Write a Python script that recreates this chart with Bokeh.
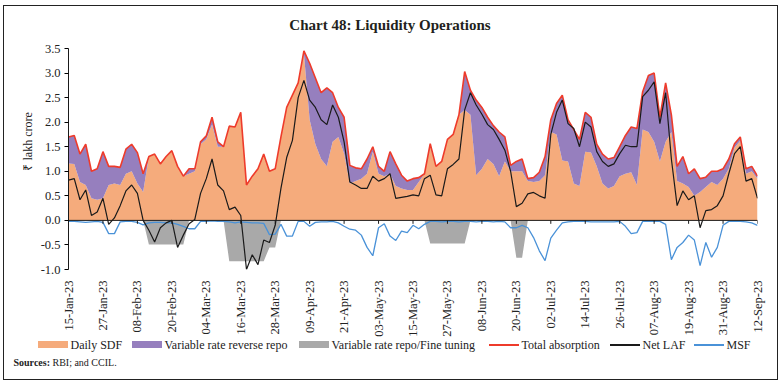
import math
import pandas as pd
from bokeh.plotting import figure
from bokeh.layouts import column
from bokeh.models import (ColumnDataSource, FixedTicker, NumeralTickFormatter, Label,
                          Span, Range1d, Title, Div)
from bokeh.embed import file_html
from bokeh.resources import INLINE

# ---------------- data (lakh crore), sampled every 2 days from 15-Jan-23 ----------------
start_date = "2023-01-15"
step = "2D"

total_absorption = [
    1.70, 1.73, 1.35, 1.55, 1.00, 1.05, 1.40, 1.10, 1.10, 1.08,
    1.45, 1.55, 1.38, 0.95, 1.30, 1.35, 1.15, 1.30, 1.42, 1.10,
    0.90, 1.05, 1.05, 1.60, 1.72, 2.10, 1.60, 1.50, 1.92, 1.90,
    2.20, 0.72, 0.90, 1.05, 1.35, 1.00, 1.05, 1.70, 2.30, 2.55,
    2.80, 3.45, 3.20, 2.90, 2.60, 2.70, 2.60, 2.30, 2.10, 1.12,
    1.07, 1.05, 1.25, 1.50, 1.10, 1.00, 1.40, 1.15, 0.92, 0.80,
    0.85, 0.87, 0.95, 1.56, 1.10, 1.20, 1.65, 1.75, 2.15, 3.03,
    2.65, 2.45, 2.30, 2.10, 1.93, 1.80, 1.70, 1.12, 1.20, 1.25,
    0.85, 0.87, 0.98, 1.30, 2.05, 2.38, 2.55, 2.05, 1.85, 1.65,
    2.20, 2.10, 1.55, 1.35, 1.25, 1.28, 1.50, 1.73, 1.90, 1.87,
    2.62, 2.95, 3.00, 2.10, 2.80, 2.15, 1.10, 1.30, 0.95, 1.05,
    0.85, 0.88, 1.00, 1.00, 1.05, 1.25, 1.56, 1.70, 1.05, 1.10,
    0.90,
]

daily_sdf = [
    1.16, 1.15, 0.78, 0.72, 0.45, 0.42, 0.45, 0.72, 0.75, 0.72,
    0.95, 1.00, 0.75, 0.58, 1.30, 1.35, 1.15, 1.30, 1.42, 1.10,
    0.90, 0.95, 1.00, 1.55, 1.65, 1.95, 1.50, 1.50, 1.92, 1.90,
    2.20, 0.72, 0.90, 1.05, 1.35, 1.00, 1.05, 1.70, 2.30, 2.55,
    2.80, 3.40, 2.05, 1.55, 1.25, 1.10, 1.60, 1.70, 1.36, 0.75,
    0.80, 0.85, 0.95, 1.40, 0.95, 0.90, 0.95, 0.70, 0.65, 0.62,
    0.62, 0.78, 0.95, 1.50, 1.10, 1.20, 1.65, 1.75, 2.15, 2.25,
    2.15, 0.92, 1.05, 1.25, 1.15, 0.90, 1.20, 1.00, 1.00, 1.00,
    0.80, 0.78, 0.80, 0.92, 1.80, 1.75, 1.22, 1.20, 0.75, 0.70,
    1.40, 1.38, 1.10, 0.75, 0.65, 0.70, 0.90, 0.95, 0.98, 0.72,
    1.85, 1.80, 1.60, 1.20, 1.60, 1.80, 0.80, 0.75, 0.68, 0.50,
    0.58, 0.68, 0.78, 0.72, 0.85, 1.05, 1.48, 1.62, 0.95, 1.00,
    0.85,
]

net_laf = [
    0.82, 0.85, 0.42, 0.62, 0.10, 0.17, 0.45, -0.08, 0.05, 0.30,
    0.60, 0.72, 0.55, 0.00, -0.20, -0.44, -0.15, -0.05, 0.00, -0.55,
    -0.30, -0.07, 0.02, 0.55, 0.85, 1.25, 0.72, 0.60, 0.22, 0.27,
    0.10, -1.00, -0.70, -0.90, -0.40, -0.45, -0.10, 0.65, 1.28, 1.63,
    2.50, 2.85, 2.45, 2.30, 2.05, 1.95, 2.35, 2.10, 1.60, 0.78,
    0.72, 0.65, 0.65, 0.90, 0.80, 0.85, 0.95, 0.45, 0.47, 0.49,
    0.52, 0.50, 0.85, 0.92, 0.52, 0.50, 1.05, 1.14, 1.25, 2.25,
    2.60, 2.35, 2.16, 1.95, 1.85, 1.65, 1.43, 1.00, 0.28, 0.35,
    0.54, 0.57, 0.50, 0.45, 1.75, 2.20, 2.45, 1.97, 1.87, 1.50,
    2.00, 1.90, 1.40, 1.20, 1.10, 1.15, 1.36, 1.53, 1.50, 1.50,
    2.52, 2.65, 2.82, 1.97, 2.60, 1.25, 0.30, 0.60, 0.42, 0.50,
    -0.15, 0.20, 0.22, 0.30, 0.50, 0.95, 1.36, 1.50, 0.80, 0.85,
    0.45,
]

msf = [
    -0.02, -0.02, -0.03, -0.04, -0.03, -0.02, -0.04, -0.27, -0.27, -0.03,
    -0.02, -0.02, -0.04, -0.09, -0.05, -0.04, -0.04, -0.05, -0.05, -0.08,
    -0.12, -0.17, -0.17, -0.02, -0.02, -0.01, -0.02, -0.02, -0.03, -0.05,
    -0.03, -0.04, -0.05, -0.05, -0.06, -0.29, -0.28, -0.08, -0.32, -0.32,
    -0.02, -0.02, -0.12, -0.04, -0.03, -0.03, -0.02, -0.05, -0.12, -0.18,
    -0.20, -0.30, -0.55, -0.72, -0.15, -0.07, -0.32, -0.41, -0.22, -0.25,
    -0.10, -0.17, -0.08, -0.02, -0.02, -0.03, -0.02, -0.02, -0.03, -0.02,
    -0.02, -0.03, -0.02, -0.02, -0.03, -0.02, -0.03, -0.15, -0.15, -0.10,
    -0.15, -0.35, -0.62, -0.82, -0.36, -0.20, -0.05, -0.03, -0.02, -0.02,
    -0.02, -0.03, -0.03, -0.03, -0.03, -0.03, -0.02, -0.12, -0.27, -0.25,
    -0.02, -0.02, -0.02, -0.02, -0.08, -0.80, -0.55, -0.45, -0.30, -0.40,
    -0.92, -0.45, -0.75, -0.55, -0.10, -0.02, -0.02, -0.02, -0.03, -0.05,
    -0.10,
]

variable_repo = [
    0, 0, 0, 0, 0, 0, 0, 0, 0, 0,
    0, 0, 0, 0, -0.49, -0.49, -0.49, -0.49, -0.49, -0.49,
    -0.49, 0, 0, 0, 0, 0, 0, 0, -0.83, -0.83,
    -0.83, -0.83, -0.83, -0.83, -0.83, -0.55, -0.55, 0, 0, 0,
    0, 0, 0, 0, 0, 0, 0, 0, 0, 0,
    0, 0, 0, 0, 0, 0, 0, 0, 0, 0,
    0, 0, 0, -0.47, -0.47, -0.47, -0.47, -0.47, -0.47, -0.47,
    0, 0, 0, 0, 0, 0, 0, 0, -0.76, -0.76,
    0, 0, 0, 0, 0, 0, 0, 0, 0, 0,
    0, 0, 0, 0, 0, 0, 0, 0, 0, 0,
    0, 0, 0, 0, 0, 0, 0, 0, 0, 0,
    0, 0, 0, 0, 0, 0, 0, 0, 0, 0,
    0,
]

x_tick_labels = ["15-Jan-23", "27-Jan-23", "08-Feb-23", "20-Feb-23", "04-Mar-23",
                 "16-Mar-23", "28-Mar-23", "09-Apr-23", "21-Apr-23", "03-May-23",
                 "15-May-23", "27-May-23", "08-Jun-23", "20-Jun-23", "02-Jul-23",
                 "14-Jul-23", "26-Jul-23", "07-Aug-23", "19-Aug-23", "31-Aug-23",
                 "12-Sep-23"]
y_ticks = [-1.0, -0.5, 0.0, 0.5, 1.0, 1.5, 2.0, 2.5, 3.0, 3.5]

legend_labels = ["Daily SDF", "Variable rate reverse repo", "Variable rate repo/Fine tuning",
                 "Total absorption", "Net LAF", "MSF"]

# ---------------- style ----------------
SERIF = "Liberation Serif"
ORANGE = "#F5AB7C"
PURPLE = "#967FBE"
GRAY = "#A9A9A9"
RED = "#EE3B2B"
BLACK = "#1A1A1A"
BLUE = "#4A92D8"
TXT = "#222222"

W = 773
H_MAIN, H_FOOT = 333, 40

# ---------------- build ----------------
n = len(total_absorption)
dates = pd.date_range(start_date, periods=n, freq=step)
day = list((dates - dates[0]).days)
tick_pos = list((pd.to_datetime(x_tick_labels, format="%d-%b-%y") - dates[0]).days)

src = ColumnDataSource(dict(day=day, total=total_absorption, sdf=daily_sdf,
                            netlaf=net_laf, msf=msf, repo=variable_repo))
tick_src = ColumnDataSource(dict(x=tick_pos))

p = figure(width=W, height=H_MAIN, output_backend="svg", toolbar_location=None,
           x_range=Range1d(tick_pos[0], tick_pos[-1]), y_range=Range1d(-1.0, 3.5),
           min_border_left=64, min_border_right=20, min_border_top=42, min_border_bottom=70)
p.background_fill_color = "white"
p.border_fill_color = "white"
p.outline_line_color = None
p.xgrid.visible = False
p.ygrid.visible = False

p.varea(x="day", y1=0, y2="sdf", source=src, fill_color=ORANGE)
p.varea(x="day", y1="sdf", y2="total", source=src, fill_color=PURPLE)
p.varea(x="day", y1="repo", y2=0, source=src, fill_color=GRAY)
p.line(x="day", y="msf", source=src, line_color=BLUE, line_width=1.3)
p.line(x="day", y="total", source=src, line_color=RED, line_width=1.6)
p.line(x="day", y="netlaf", source=src, line_color=BLACK, line_width=1.2)

p.add_layout(Span(location=0, dimension="width", line_color=BLACK, line_width=1))
p.segment(x0="x", y0=0, x1="x", y1=-0.07, source=tick_src, line_color=BLACK, line_width=1)

xa = p.xaxis[0]
xa.ticker = FixedTicker(ticks=tick_pos)
xa.major_label_overrides = {int(t): lab for t, lab in zip(tick_pos, x_tick_labels)}
xa.axis_line_color = None
xa.major_tick_line_color = None
xa.minor_tick_line_color = None
xa.major_label_orientation = math.pi / 2
xa.major_label_standoff = 5
xa.major_label_text_font = SERIF
xa.major_label_text_font_size = "12.5px"
xa.major_label_text_color = TXT

ya = p.yaxis[0]
ya.ticker = FixedTicker(ticks=y_ticks)
ya.formatter = NumeralTickFormatter(format="0.0")
ya.axis_line_color = BLACK
ya.axis_line_width = 1
ya.major_tick_out = 4
ya.major_tick_in = 0
ya.minor_tick_line_color = None
ya.major_label_standoff = 4
ya.major_label_text_font = SERIF
ya.major_label_text_font_size = "12.5px"
ya.major_label_text_color = TXT

p.add_layout(Title(text="₹ lakh crore", align="left", offset=99, text_font=SERIF,
                   text_font_style="normal", text_font_size="12px", text_color=TXT,
                   standoff=6), "left")

p.add_layout(Label(x=385.5, y=18, x_units="canvas", y_units="canvas",
                   text="Chart 48: Liquidity Operations", text_align="center",
                   text_baseline="middle", text_font=SERIF, text_font_style="bold",
                   text_font_size="15px", text_color="#231F20"), "above")

# ---------------- legend row and source note ----------------
swatches = [("area", ORANGE), ("area", PURPLE), ("area", GRAY),
            ("line", RED), ("line", BLACK), ("line", BLUE)]
item_left = [34, 128, 295, 485, 606, 690]

parts = []
for (kind, color), lab, left in zip(swatches, legend_labels, item_left):
    h = 7 if kind == "area" else 2
    parts.append(
        f'<div style="position:absolute;left:{left}px;top:0px;height:12px;display:flex;'
        f'align-items:center;white-space:nowrap;">'
        f'<span style="display:inline-block;width:30px;height:{h}px;background:{color};'
        f'margin-right:3px;"></span><span>{lab}</span></div>'
    )
parts.append(
    '<div style="position:absolute;left:10px;top:18px;height:12px;line-height:12px;'
    'font-size:10px;white-space:nowrap;"><b>Sources:</b> RBI; and CCIL.</div>'
)
footer_html = (
    f'<div style="position:relative;width:{W}px;height:{H_FOOT}px;'
    f'font-family:\'{SERIF}\',serif;font-size:12px;line-height:12px;color:{TXT};">'
    + "".join(parts) + "</div>"
)
footer = Div(text=footer_html, width=W, height=H_FOOT, margin=0)

page = column(p, footer, spacing=0,
              styles={"border": "1.5px solid #222222", "margin-left": "2.5px",
                      "margin-top": "4.5px"})

open("out.html", "w").write(file_html(page, INLINE))
